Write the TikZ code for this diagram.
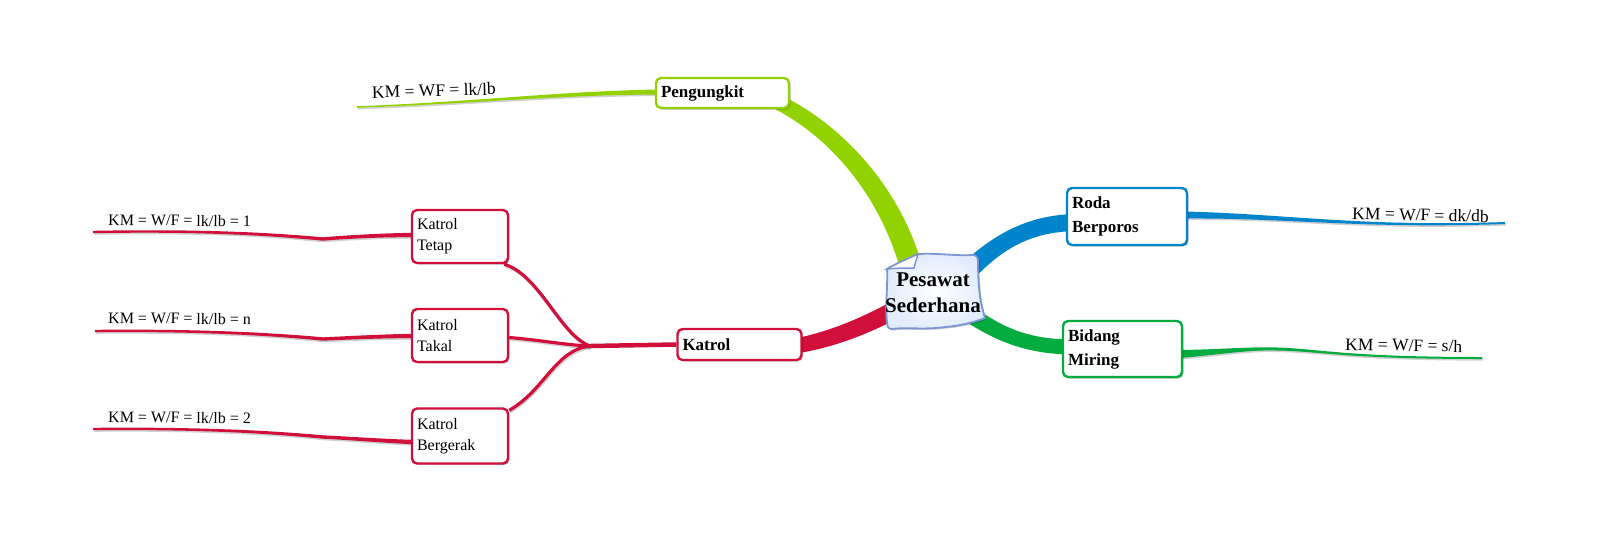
\documentclass[tikz,border=0pt]{standalone}
\usepackage{fontspec}
\setmainfont{Liberation Serif}
\usetikzlibrary{calc,shadows}
\pgfdeclarelayer{background}
\pgfsetlayers{background,main}
\definecolor{lime}{RGB}{146,210,0}
\definecolor{mred}{RGB}{208,16,58}
\definecolor{mblue}{RGB}{0,132,204}
\definecolor{mgreen}{RGB}{4,172,64}
\definecolor{ctrline}{RGB}{124,150,210}
\definecolor{ctrfill}{RGB}{226,236,252}
% tapered band: style, P0, P1, P2, P3, half width at start, middle, end
\newcommand{\tpr}[8]{%
  \fill[#1] ($(#2)!#6!90:(#3)$) .. controls ($(#3)!#7!90:(#4)$) and ($(#4)!#8!90:(#5)$) ..
    ($(#5)!#8!-90:(#4)$) -- ($(#5)!#8!90:(#4)$) .. controls ($(#4)!#8!-90:(#5)$) and ($(#3)!#7!-90:(#4)$) ..
    ($(#2)!#6!-90:(#3)$) -- cycle;}
\tikzset{
  box/.style={draw, line width=2.4pt, rounded corners=5pt, fill=white, inner xsep=5pt, inner ysep=2pt,
    align=left, drop shadow={shadow xshift=1.5pt,shadow yshift=-1.5pt,fill=black,opacity=0.25}},
  nbox/.style={box, font=\fontsize{16}{21}\selectfont},
  bbox/.style={box, font=\fontsize{17}{24}\selectfont\bfseries},
  lblS/.style={inner sep=0pt, font=\fontsize{16}{19}\selectfont},
  lblL/.style={inner sep=0pt, font=\fontsize{17.5}{21}\selectfont},
  shd/.style={fill=black, opacity=0.18, transform canvas={shift={(0.8pt,-1.6pt)}}},
  redline/.style={draw=mred, line width=3.2pt},
  redshd/.style={draw=black, opacity=0.18, line width=3.2pt, transform canvas={shift={(0.8pt,-1.6pt)}}},
}
\begin{document}
\begin{tikzpicture}[x=1pt,y=-1pt]
\useasboundingbox (0,0) rectangle (1600,542);

% central paper shape
\path[draw=ctrline, line width=1.8pt, inner color=white, outer color=ctrfill,
  preaction={fill=black, opacity=0.2, transform canvas={shift={(1.5pt,-1.5pt)}}}]
  (918,254) .. controls (940,253) and (955,256) .. (972,255)
  .. controls (976,255) and (978,257) .. (978,261)
  .. controls (978,280) and (979,300) .. (985,318)
  .. controls (975,322) and (960,326) .. (945,327)
  .. controls (925,330) and (905,327) .. (892,329)
  .. controls (888,329) and (887,326) .. (887,322)
  .. controls (885,305) and (888,285) .. (887,269)
  .. controls (897,263) and (910,258) .. (918,254) -- cycle;
\path[draw=ctrline, line width=1.5pt, fill=white]
  (887,269) .. controls (897,268) and (908,268) .. (914,268)
  .. controls (915,263) and (917,258) .. (918,254)
  .. controls (910,258) and (897,263) .. (887,269) -- cycle;
\node[font=\fontsize{21}{26}\selectfont\bfseries, align=center, inner sep=0pt] (ctr) at (933,293) {Pesawat\\Sederhana};

% boxes
\node[bbox, draw=lime, minimum height=30pt, text width=123pt] (peng) at (722.5,93) {Pengungkit};
\node[bbox, draw=mred, minimum height=31pt, text width=114pt] (katrol) at (739.5,344.5) {Katrol};
\node[nbox, draw=mred, minimum height=53pt, text width=86pt] (tetap) at (460,236.5) {Katrol\\Tetap};
\node[nbox, draw=mred, minimum height=53pt, text width=86pt] (takal) at (460,335.5) {Katrol\\Takal};
\node[nbox, draw=mred, minimum height=55pt, text width=86pt] (bergerak) at (460,436) {Katrol\\Bergerak};
\node[bbox, draw=mblue, minimum height=57pt, text width=110pt] (roda) at (1127,216.5) {Roda\\Berporos};
\node[bbox, draw=mgreen, minimum height=56pt, text width=109pt] (bidang) at (1122.5,349) {Bidang\\Miring};

% labels
\node[lblS, anchor=base west, rotate=-0.7] (lt) at (108,225) {KM = W/F = lk/lb = 1};
\node[lblS, anchor=base west, rotate=-0.7] (lk) at (108,323) {KM = W/F = lk/lb = n};
\node[lblS, anchor=base west, rotate=-0.7] (le) at (108,422) {KM = W/F = lk/lb = 2};
\node[lblL, anchor=base west, rotate=1.5] (lp) at (372,98) {KM = WF = lk/lb};
\node[lblL, anchor=base west, rotate=-1.4] (lr) at (1352,219) {KM = W/F = dk/db};
\node[lblL, anchor=base west, rotate=-1.1] (lb) at (1345,350) {KM = W/F = s/h};

% connector coordinates
\coordinate (g0) at ($(peng.south east)+(-14,-8)$);
\coordinate (g1) at (835,130);
\coordinate (g2) at (890,190);
\coordinate (g3) at ($(ctr)+(-21,-23)$);
\coordinate (r0) at ($(katrol.east)+(-7,1.5)$);
\coordinate (r1) at (840,338);
\coordinate (r2) at (880,320);
\coordinate (r3) at ($(ctr)+(-3,-3)$);
\coordinate (b0) at ($(ctr)+(22,-8)$);
\coordinate (b1) at (995,240);
\coordinate (b2) at (1030,224);
\coordinate (b3) at ($(roda.west)+(8,6)$);
\coordinate (d0) at ($(ctr)+(17,7)$);
\coordinate (d1) at (990,330);
\coordinate (d2) at (1020,347);
\coordinate (d3) at ($(bidang.west)+(12,-2)$);
% thin lines
\coordinate (p0) at ($(peng.west)+(3,-1)$);
\coordinate (p1) at (560,93);
\coordinate (p2) at (470,103);
\coordinate (p3) at (357,107);
\coordinate (q0) at ($(roda.east)+(-3,-1.5)$);
\coordinate (q1) at (1290,216);
\coordinate (q2) at (1360,228);
\coordinate (q3) at (1505,223);
\coordinate (s0) at ($(bidang.east)+(-3,5)$);
\coordinate (s1) at (1220,352);
\coordinate (s2) at (1250,348);
\coordinate (s3) at (1277,349);
\coordinate (s4) at (1320,350);
\coordinate (s5) at (1345,358);
\coordinate (s6) at (1482,358);
\coordinate (t0) at ($(tetap.west)+(2,-1.5)$);
\coordinate (t1) at (385,235);
\coordinate (t2) at (345,237);
\coordinate (t3) at (323,239);
\coordinate (t4) at (270,234);
\coordinate (t5) at (200,230);
\coordinate (t6) at (93,232);
\coordinate (k0) at ($(takal.west)+(2,0.5)$);
\coordinate (k1) at (385,336);
\coordinate (k2) at (345,338);
\coordinate (k3) at (323,339);
\coordinate (k4) at (270,334);
\coordinate (k5) at (200,330);
\coordinate (k6) at (95,331);
\coordinate (e0) at ($(bergerak.west)+(2,6)$);
\coordinate (e1) at (385,441);
\coordinate (e2) at (345,438);
\coordinate (e3) at (323,437);
\coordinate (e4) at (270,432);
\coordinate (e5) at (200,428);
\coordinate (e6) at (93,429);
\coordinate (J) at (590,346);

\begin{pgfonlayer}{background}
  % main branches
  \tpr{lime}{g0}{g1}{g2}{g3}{7.5pt}{9pt}{11pt}
  \tpr{mred}{r0}{r1}{r2}{r3}{7.5pt}{8.5pt}{9pt}
  \tpr{mblue}{b0}{b1}{b2}{b3}{10pt}{9pt}{8.5pt}
  \tpr{mgreen}{d0}{d1}{d2}{d3}{9pt}{8pt}{7.5pt}
  % label lines with shadows
  \tpr{shd}{p0}{p1}{p2}{p3}{2.5pt}{1.8pt}{0.8pt}
  \tpr{lime}{p0}{p1}{p2}{p3}{2.5pt}{1.8pt}{0.8pt}
  \tpr{shd}{q0}{q1}{q2}{q3}{3.5pt}{1.8pt}{1pt}
  \tpr{mblue}{q0}{q1}{q2}{q3}{3.5pt}{1.8pt}{1pt}
  \tpr{shd}{s0}{s1}{s2}{s3}{4pt}{2.5pt}{1.5pt}
  \tpr{shd}{s3}{s4}{s5}{s6}{1.5pt}{1.2pt}{1pt}
  \tpr{mgreen}{s0}{s1}{s2}{s3}{4pt}{2.5pt}{1.5pt}
  \tpr{mgreen}{s3}{s4}{s5}{s6}{1.5pt}{1.2pt}{1pt}
  \foreach \n in {t,k,e}{
    \tpr{shd}{\n0}{\n1}{\n2}{\n3}{2.2pt}{1.9pt}{1.7pt}
    \tpr{shd}{\n3}{\n4}{\n5}{\n6}{1.7pt}{1.5pt}{1.2pt}
    \tpr{mred}{\n0}{\n1}{\n2}{\n3}{2.2pt}{1.9pt}{1.7pt}
    \tpr{mred}{\n3}{\n4}{\n5}{\n6}{1.7pt}{1.5pt}{1.2pt}
  }
  % katrol sub-branches
  \draw[redshd] ($(tetap.south east)+(-5,0)$) .. controls (540,275) and (560,335) .. (J);
  \draw[redshd] ($(takal.east)+(0,2)$) .. controls (540,340) and (565,345) .. (J);
  \draw[redshd] ($(bergerak.north east)+(0,3)$) .. controls (545,390) and (555,350) .. (J);
  \draw[redline] ($(tetap.south east)+(-5,0)$) .. controls (540,275) and (560,335) .. (J);
  \draw[redline] ($(takal.east)+(0,2)$) .. controls (540,340) and (565,345) .. (J);
  \draw[redline] ($(bergerak.north east)+(0,3)$) .. controls (545,390) and (555,350) .. (J);
  \draw[redline, line width=4.5pt] (J) -- (katrol.west);
\end{pgfonlayer}
\end{tikzpicture}
\end{document}
